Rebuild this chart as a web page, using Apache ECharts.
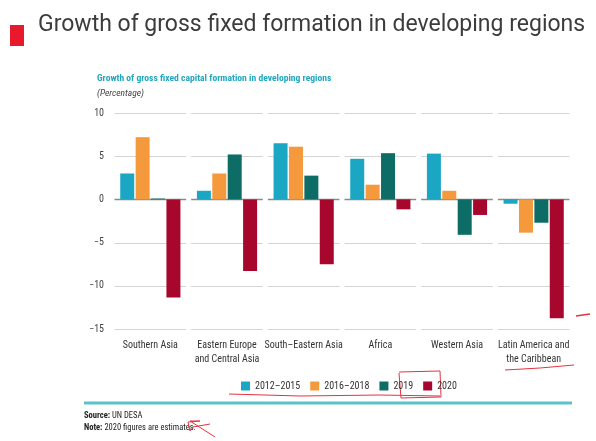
<!DOCTYPE html>
<html><head><meta charset="utf-8">
<script src="https://cdn.jsdelivr.net/npm/echarts@6/dist/echarts.min.js"></script>
<style>html,body{margin:0;padding:0;background:#fff}#c{width:596px;height:441px}</style>
</head><body><div id="c"></div>
<script>
const categories = ['Southern Asia', 'Eastern Europe\nand Central Asia', 'South\u2013Eastern Asia', 'Africa', 'Western Asia', 'Latin America and\nthe Caribbean'];
const seriesNames = ['2012\u20132015', '2016\u20132018', '2019', '2020'];
const v2012_2015 = [3.0, 1.0, 6.5, 4.7, 5.3, -0.5];
const v2016_2018 = [7.2, 3.0, 6.1, 1.7, 1.0, -3.85];
const v2019 = [0.1, 5.2, 2.75, 5.35, -4.1, -2.7];
const v2020 = [-11.35, -8.3, -7.5, -1.15, -1.8, -13.75];
const yTicks = [-15, -10, -5, 0, 5, 10];
const colors = ['#1ba6c4', '#f4993c', '#0e6c66', '#a8072d'];

const narrow = '"Liberation Sans Narrow", "Roboto Condensed", "Arial Narrow", Roboto, sans-serif';
const chart = echarts.init(document.getElementById('c'));
const allVals = [v2012_2015, v2016_2018, v2019, v2020];
const ink = '#e5323f';

const gridSeries = {
  type: 'custom', name: 'grid', silent: true, z: 1,
  data: categories.map((c, i) => [i, 0]),
  encode: {x: 0, y: 1},
  renderItem: function (params, api) {
    const idx = api.value(0);
    const c = api.coord([idx, 0]);
    const bw = api.size([1, 0])[0];
    const x1 = c[0] - bw / 2 + 2.5, x2 = c[0] + bw / 2 - 2.5;
    return {
      type: 'group',
      children: yTicks.map(t => {
        const y = Math.round(api.coord([idx, t])[1]) + 0.5;
        return {type: 'line', shape: {x1: x1, y1: y, x2: x2, y2: y},
          style: {stroke: t === 0 ? '#8a8a8a' : '#d4d4d4', lineWidth: t === 0 ? 1.5 : 1.2}};
      })
    };
  }
};

chart.setOption({
  animation: false,
  title: [
    {text: 'Growth of gross fixed formation in developing regions', left: 33, top: 9,
     textStyle: {fontFamily: 'Roboto, "Noto Sans", sans-serif', fontWeight: 'normal', fontSize: 23, color: '#3c3c3c'}},
    {text: 'Growth of gross fixed capital formation in developing regions', left: 92, top: 69,
     textStyle: {fontFamily: narrow, fontWeight: 'bold', fontSize: 9.6, color: '#23a7c0'}},
    {text: '(Percentage)', left: 92, top: 84,
     textStyle: {fontFamily: narrow, fontStyle: 'italic', fontWeight: 'normal', fontSize: 9.5, color: '#444'}}
  ],
  grid: {left: 112, right: 24, top: 113, bottom: 112},
  legend: {
    data: seriesNames, left: 236, top: 376, itemWidth: 9, itemHeight: 9, itemGap: 10,
    icon: 'rect',
    textStyle: {fontFamily: narrow, fontSize: 10, color: '#333'}
  },
  xAxis: {
    type: 'category', data: categories,
    axisLine: {show: false}, axisTick: {show: false},
    axisLabel: {fontFamily: narrow, fontSize: 10, color: '#333', margin: 9, lineHeight: 14, interval: 0},
    splitLine: {show: false}
  },
  yAxis: {
    type: 'value', min: yTicks[0], max: yTicks[yTicks.length - 1], interval: 5,
    axisLine: {show: false}, axisTick: {show: false},
    axisLabel: {fontFamily: narrow, fontSize: 10, color: '#444', margin: 8,
      formatter: v => (v < 0 ? '\u2212' + Math.abs(v) : String(v))},
    splitLine: {show: false}
  },
  series: [gridSeries].concat(seriesNames.map((n, i) => ({
    name: n, type: 'bar', data: allVals[i], barWidth: 14, barGap: '10%', z: 3,
    itemStyle: {color: colors[i]}
  }))),
  graphic: [
    {type: 'rect', shape: {x: 10, y: 25, width: 14, height: 21}, style: {fill: '#e8192c'}},
    {type: 'rect', shape: {x: 84, y: 401.5, width: 488, height: 3}, style: {fill: '#5cc2c9'}},
    {type: 'text', left: 84, top: 411, style: {text: '{b|Source:} UN DESA', fontFamily: narrow, fontSize: 8.5, fill: '#222',
      rich: {b: {fontWeight: 'bold', fontFamily: narrow, fontSize: 8.5, fill: '#222'}}}},
    {type: 'text', left: 84, top: 423, style: {text: '{b|Note:} 2020 figures are estimates.', fontFamily: narrow, fontSize: 8.5, fill: '#222',
      rich: {b: {fontWeight: 'bold', fontFamily: narrow, fontSize: 8.5, fill: '#222'}}}},
    {type: 'polyline', shape: {points: [[399, 372], [440, 371], [441, 397], [401, 398], [399, 373]]}, style: {stroke: ink, lineWidth: 1, fill: null}},
    {type: 'polyline', shape: {points: [[229, 394], [300, 396], [380, 395], [440, 396]]}, style: {stroke: ink, lineWidth: 1, fill: null}},
    {type: 'polyline', shape: {points: [[505, 370], [540, 368], [574, 365]]}, style: {stroke: ink, lineWidth: 1, fill: null}},
    {type: 'polyline', shape: {points: [[576, 316], [590, 314]]}, style: {stroke: ink, lineWidth: 1.5, fill: null}},
    {type: 'polyline', shape: {points: [[215, 437], [190, 421], [200, 421], [188, 422], [190, 431], [193, 427], [210, 424]]}, style: {stroke: ink, lineWidth: 1, fill: null}}
  ]
});
</script></body></html>
